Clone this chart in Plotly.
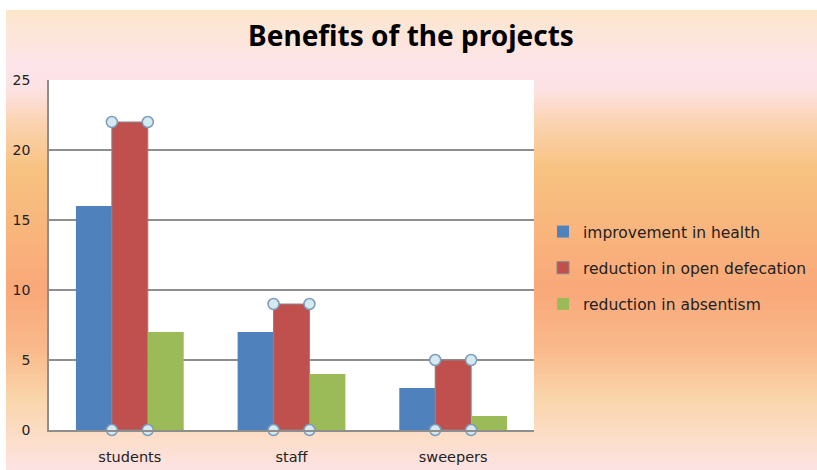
import plotly.graph_objects as go

categories = ["students", "staff", "sweepers"]
improvement_in_health = [16, 7, 3]
reduction_in_open_defecation = [22, 9, 5]
reduction_in_absentism = [7, 4, 1]
y_ticks = [0, 5, 10, 15, 20, 25]

W, H = 817, 470
PL, PR, PT, PB = 49, 534, 80, 430   # plot area in pixels
L, R, T, B = PL, W - PR, PT, H - PB
pw, ph = PR - PL, PB - PT

def px_to_paper_x(px):
    return (px - PL) / pw

def px_to_paper_y(py):
    return (PB - py) / ph

x_pos = list(range(len(categories)))
bargap = 1/3
bar_w = (1 - bargap) / 3

fig = go.Figure()
fig.add_trace(go.Bar(x=x_pos, y=improvement_in_health, name="improvement in health",
                     marker=dict(color="#4F81BD", line=dict(width=0)), legendgroup="a"))
fig.add_trace(go.Bar(x=x_pos, y=reduction_in_open_defecation, name="reduction in open defecation",
                     marker=dict(color="#C0504D", line=dict(color="#868686", width=1)), legendgroup="b"))
fig.add_trace(go.Bar(x=x_pos, y=reduction_in_absentism, name="reduction in absentism",
                     marker=dict(color="#9BBB59", line=dict(width=0)), legendgroup="c"))

# selection handles at the corners of the selected (red) series
hx, hy = [], []
for i, v in zip(x_pos, reduction_in_open_defecation):
    for dx in (-bar_w / 2, bar_w / 2):
        for yy in (0, v):
            hx.append(i + dx)
            hy.append(yy)
fig.add_trace(go.Scatter(x=hx, y=hy, mode="markers", showlegend=False, hoverinfo="skip",
                         marker=dict(symbol="circle", size=11, color="#D4EAF0",
                                     line=dict(color="#7E9CBA", width=1.5)),
                         cliponaxis=False))

# background gradient (decoration)
stops = [
    (10, (252, 231, 203)),
    (65, (253, 228, 234)),
    (90, (253, 226, 228)),
    (120, (251, 212, 180)),
    (170, (248, 194, 128)),
    (290, (249, 168, 121)),
    (350, (249, 186, 140)),
    (400, (250, 214, 172)),
    (440, (252, 222, 202)),
    (470, (253, 226, 228)),
]

def color_at(py):
    for (y0, c0), (y1, c1) in zip(stops[:-1], stops[1:]):
        if y0 <= py <= y1:
            t = (py - y0) / (y1 - y0)
            return "rgb(%d,%d,%d)" % tuple(round(a + (b - a) * t) for a, b in zip(c0, c1))
    return "rgb(%d,%d,%d)" % stops[-1][1]

shapes = []
step = 4
py = 10
while py < H:
    shapes.append(dict(type="rect", xref="paper", yref="paper", layer="below",
                       x0=px_to_paper_x(6), x1=px_to_paper_x(W + 5),
                       y0=px_to_paper_y(min(py + step + 3, H + 2)), y1=px_to_paper_y(py),
                       line=dict(width=0), fillcolor=color_at(py + step / 2)))
    py += step
shapes.append(dict(type="rect", xref="paper", yref="paper", layer="below",
                   x0=0, x1=1, y0=0, y1=1, line=dict(width=0), fillcolor="white"))

fig.update_layout(
    width=W, height=H,
    margin=dict(l=L, r=R, t=T, b=B, autoexpand=False),
    paper_bgcolor="white",
    plot_bgcolor="white",
    barmode="group", bargap=bargap, bargroupgap=0,
    shapes=shapes,
    title=dict(text="<b>Benefits of the projects</b>", x=411 / W, xref="container",
               xanchor="center", y=1 - 36 / H, yanchor="middle",
               font=dict(family="Noto Sans, Open Sans, sans-serif", size=28, color="#000")),
    font=dict(family="DejaVu Sans, Verdana, sans-serif", size=12, color="#222"),
    legend=dict(x=px_to_paper_x(543), xanchor="left", y=px_to_paper_y(268), yanchor="middle",
                bgcolor="rgba(0,0,0,0)", tracegroupgap=13,
                font=dict(family="DejaVu Sans, Verdana, sans-serif", size=15.5, color="#222"),
                itemwidth=30),
    xaxis=dict(tickmode="array", tickvals=x_pos, ticktext=categories, range=[-0.5, 2.5],
               showgrid=False, zeroline=False, showline=True, linecolor="#8E8E8E", linewidth=1.5,
               ticks="", ticklabelstandoff=13, tickfont=dict(size=14.5)),
    yaxis=dict(range=[0, 25], tickvals=y_ticks, showgrid=True, gridcolor="#8E8E8E", gridwidth=1.5,
               zeroline=False, showline=True, linecolor="#8E8E8E", linewidth=1.5,
               ticks="", ticklabelstandoff=14, tickfont=dict(size=14)),
    hovermode=False,
)

fig.write_html("out.html",
               config={"displayModeBar": False},
               post_script="document.body.style.margin='0';"
                           "document.documentElement.style.overflow='hidden';")
